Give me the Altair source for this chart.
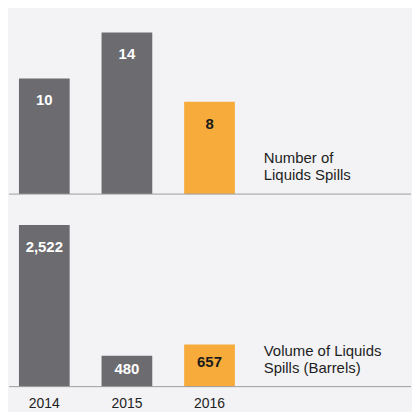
import altair as alt
import pandas as pd

years = ["2014", "2015", "2016"]
spill_counts = [10, 14, 8]
spill_volumes = [2522, 480, 657]
count_note = ["Number of", "Liquids Spills"]
volume_note = ["Volume of Liquids", "Spills (Barrels)"]

GRAY = "#6c6b70"
ORANGE = "#f6ab3a"
BG = "#f3f3f5"
RULE = "#9d9da0"
FONT = "Liberation Sans"

df = pd.DataFrame({"year": years, "count": spill_counts, "volume": spill_volumes})

x_scale = alt.Scale(domain=years, range=[10, 227], paddingInner=0.386, paddingOuter=0)
color_scale = alt.Scale(domain=years, range=[GRAY, GRAY, ORANGE])


def panel(field, ymax, height, label_k, note, note_y, xaxis):
    yscale = alt.Scale(domain=[0, ymax], nice=False, zero=True)
    x = alt.X("year:N", scale=x_scale, axis=xaxis, title=None)
    bars = alt.Chart(df).mark_bar().encode(
        x=x,
        y=alt.Y(f"{field}:Q", scale=yscale, axis=None),
        color=alt.Color("year:N", scale=color_scale, legend=None),
    )
    labels = (
        alt.Chart(df)
        .transform_calculate(label_y=f"max(datum.{field} * 0.6, datum.{field} - {label_k})")
        .mark_text(font=FONT, fontSize=15, fontWeight="bold", baseline="middle", dy=1)
        .encode(
            x=x,
            y=alt.Y("label_y:Q", scale=yscale, axis=None),
            text=alt.Text(f"{field}:Q", format=","),
            color=alt.condition(alt.datum.year == "2016", alt.value("#1b1b1b"), alt.value("#ffffff")),
        )
    )
    rule = alt.Chart(pd.DataFrame({"base": [0]})).mark_rule(color=RULE, strokeWidth=1).encode(
        y=alt.Y("base:Q", scale=yscale, axis=None)
    )
    text = alt.Chart(pd.DataFrame({"t": [0]})).mark_text(
        font=FONT, fontSize=15, align="left", baseline="middle", lineHeight=17.5, color="#1e1e1e"
    ).encode(x=alt.value(256), y=alt.value(note_y), text=alt.value(note))
    return alt.layer(bars, rule, labels, text).properties(width=404, height=height)


top = panel("count", 16.03, 186, 1.81, count_note, 149.5, None)
bottom = panel(
    "volume",
    2988,
    192.5,
    334,
    volume_note,
    156.5,
    alt.Axis(labelFontSize=14, labelColor="#222222", labelFont=FONT, domain=False, ticks=False,
             labelPadding=10, labelAngle=0),
)

chart = (
    alt.vconcat(top, bottom, spacing=0)
    .properties(background=BG, padding=0)
    .configure_view(stroke=None)
)

chart.save("out.html", embed_options={"renderer": "svg", "actions": False})
